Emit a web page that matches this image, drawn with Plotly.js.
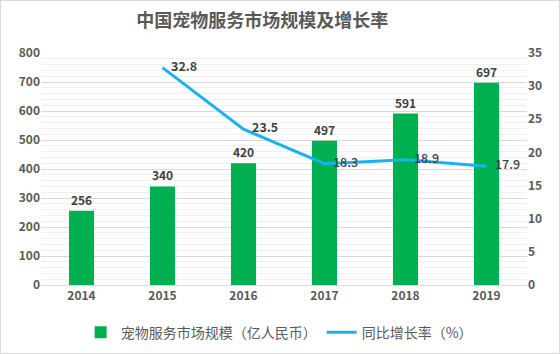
<!DOCTYPE html>
<html>
<head>
<meta charset="utf-8">
<script src="https://cdn.plot.ly/plotly-3.0.1.min.js"></script>
<style>
html,body{margin:0;padding:0;background:#fff;}
#chart{width:560px;height:354px;box-sizing:border-box;border:1px solid #d9d9d9;}
</style>
</head>
<body>
<div id="chart"></div>
<script>
const years = ['2014','2015','2016','2017','2018','2019'];
const marketSize = [256, 340, 420, 497, 591, 697];
const growthYears = ['2015','2016','2017','2018','2019'];
const growthRate = [32.8, 23.5, 18.3, 18.9, 17.9];
const barName = '宠物服务市场规模（亿人民币）';
const lineName = '同比增长率（%）';

const FONT = '"Noto Sans CJK SC", "Noto Sans", sans-serif';
const gray = '#595959';

const traces = [
  {
    type: 'bar', x: years, y: marketSize, name: barName,
    marker: {color: '#00b050'},
    text: marketSize.map(String), textposition: 'outside', cliponaxis: false,
    textfont: {family: FONT, size: 12, color: '#404040', weight: 700},
    hoverinfo: 'x+y'
  },
  {
    type: 'scatter', mode: 'lines+text', x: growthYears, y: growthRate, name: lineName,
    yaxis: 'y2', line: {color: '#1ab2ee', width: 3},
    text: growthRate.map(v => '\u00a0\u00a0\u00a0' + v.toFixed(1)), textposition: 'middle right', cliponaxis: false,
    textfont: {family: FONT, size: 12.5, color: '#404040', weight: [700, 700, 500, 500, 500]}
  }
];

const layout = {
  width: 558, height: 352,
  margin: {l: 40, r: 32, t: 52, b: 68, autoexpand: false},
  paper_bgcolor: '#fff', plot_bgcolor: '#fff',
  font: {family: FONT, color: gray},
  title: {text: '<b>中国宠物服务市场规模及增长率</b>', x: 0.468, xanchor: 'center', y: 0.945, yanchor: 'middle',
          font: {family: FONT, size: 18, color: gray}},
  showlegend: true,
  legend: {orientation: 'h', x: 0.49, xanchor: 'center', y: -0.205, yanchor: 'middle',
           font: {family: FONT, size: 14, color: gray}, itemwidth: 30},
  bargap: 0.69,
  xaxis: {type: 'category', showgrid: false, showline: true, linecolor: '#d9d9d9', linewidth: 1,
          ticks: '', tickfont: {family: FONT, size: 12, color: gray, weight: 700}},
  yaxis: {range: [0, 800], dtick: 100, showgrid: true, gridcolor: '#d9d9d9', gridwidth: 1,
          zeroline: false, showline: false, ticks: '', ticklen: 0,
          tickfont: {family: FONT, size: 12, color: gray, weight: 700},
          minor: {dtick: 20, showgrid: true, gridcolor: '#f0f0f0', gridwidth: 1, ticks: ''}},
  yaxis2: {range: [0, 35], dtick: 5, overlaying: 'y', side: 'right', showgrid: false,
           zeroline: false, showline: false, ticks: '',
           tickfont: {family: FONT, size: 12, color: gray, weight: 700}}
};

Plotly.newPlot('chart', traces, layout, {displayModeBar: false, staticPlot: true});
</script>
</body>
</html>
